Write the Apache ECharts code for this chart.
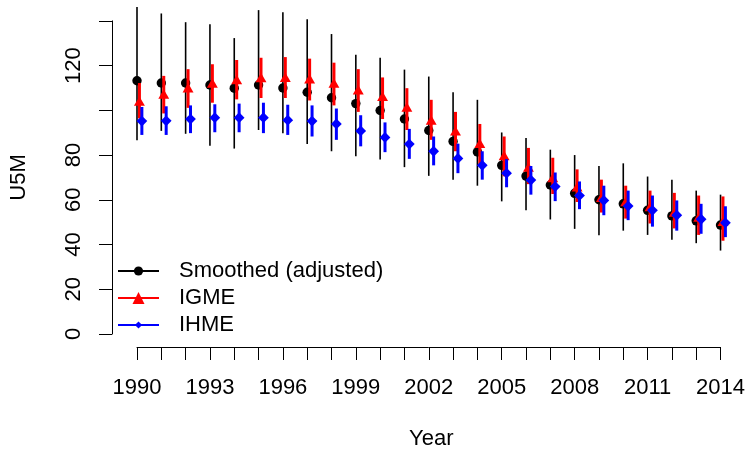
<!DOCTYPE html>
<html><head><meta charset="utf-8">
<script src="https://cdn.jsdelivr.net/npm/echarts@6/dist/echarts.min.js"></script>
<style>html,body{margin:0;padding:0;background:#fff}#c{width:748px;height:455px}</style>
</head><body><div id="c"></div>
<script>
const years = [1990,1991,1992,1993,1994,1995,1996,1997,1998,1999,2000,2001,2002,2003,2004,2005,2006,2007,2008,2009,2010,2011,2012,2013,2014];

const smoothed   = [113.2,112.2,112.2,111.3,109.9,111.3,110.0,108.1,105.6,103.0,99.9,96.1,91.0,86.1,81.4,75.4,70.6,66.6,62.9,60.0,58.2,55.3,52.8,50.6,48.7];
const smoothedLo = [86.6,90.8,89.5,84.2,82.9,91.2,89.8,84.9,81.7,79.5,78.0,74.6,70.7,69.0,66.3,59.3,55.3,51.2,47.0,44.1,46.2,44.3,42.1,40.6,37.3];
const smoothedHi = [146.2,143.3,139.4,138.5,132.3,144.8,143.8,140.7,134.1,124.8,123.5,118.2,115.1,108.1,104.7,90.1,87.6,82.4,80.0,75.1,76.3,70.4,69.0,64.1,62.3];

const igme   = [103.4,106.6,109.4,111.5,113.1,114.0,114.1,113.4,111.5,108.5,105.6,100.8,95.0,90.1,84.6,79.1,73.9,69.2,65.1,60.4,58.5,56.3,53.8,51.6,49.7];
const igmeLo = [96.4,98.6,101.1,103.4,104.9,105.5,105.5,104.4,102.2,99.3,96.1,91.2,86.8,81.7,75.5,70.5,67.0,62.6,59.0,54.3,51.6,49.4,47.2,44.3,41.7];
const igmeHi = [112.2,115.4,118.4,120.6,122.5,123.5,123.8,123.1,121.3,118.4,114.7,109.9,104.7,99.3,93.9,88.3,83.2,78.8,73.6,69.0,66.3,64.1,63.1,61.9,61.5];

const ihme   = [95.2,95.3,96.1,96.7,96.7,96.7,95.6,95.2,93.9,90.8,87.9,84.9,81.7,78.5,75.4,71.9,68.8,65.9,61.9,59.7,57.2,55.3,53.1,51.3,49.7];
const ihmeLo = [89.0,89.0,89.8,90.2,90.2,89.8,89.0,88.3,86.8,83.9,81.3,78.3,75.4,71.9,69.0,65.6,62.3,59.4,55.8,53.1,50.9,48.0,46.2,44.8,43.3];
const ihmeHi = [101.5,101.8,102.2,102.7,103.0,103.4,102.5,102.2,100.8,97.8,94.6,91.7,88.3,85.1,81.7,78.2,75.1,72.2,68.2,66.3,64.1,61.9,59.7,58.2,57.1];

const yTicks = [0,20,40,60,80,100,120,140];
const yLabelsShown = [0,20,40,60,80,120];
const seriesNames = ['Smoothed (adjusted)','IGME','IHME'];

const FONT = '"Liberation Sans", Arial, Helvetica, sans-serif';
const FS = 22;

function rows(v, lo, hi) { return years.map((y, i) => [y, lo[i], hi[i], v[i]]); }

function circleMark(p, c) { return {type:'circle', shape:{cx:p[0], cy:p[1], r:4.7}, style:{fill:c}}; }
function triMark(p, c) {
  const r = 6.3, xc = r * Math.sqrt(3) / 2;
  return {type:'polygon', shape:{points:[[p[0], p[1]-r],[p[0]+xc, p[1]+r/2],[p[0]-xc, p[1]+r/2]]}, style:{fill:c}};
}
function diaMark(p, c) {
  const d = 5.4;
  return {type:'polygon', shape:{points:[[p[0], p[1]-d],[p[0]+d, p[1]],[p[0], p[1]+d],[p[0]-d, p[1]]]}, style:{fill:c}};
}
function makeRender(dx, color, lw, marker) {
  return function (params, api) {
    const x = api.value(0) + dx;
    const pHi = api.coord([x, api.value(2)]);
    const pLo = api.coord([x, api.value(1)]);
    const p = api.coord([x, api.value(3)]);
    return {type:'group', children:[
      {type:'line', shape:{x1:pHi[0], y1:pHi[1], x2:pLo[0], y2:pLo[1]}, style:{stroke:color, lineWidth:lw}},
      marker(p, color)
    ]};
  };
}

const chart = echarts.init(document.getElementById('c'), null, {renderer:'canvas'});
const legendBase = {left:117, padding:0, itemWidth:41, textStyle:{color:'#000', fontSize:FS, fontFamily:FONT, padding:[0,0,0,15]}};
chart.setOption({
  animation:false,
  backgroundColor:'#fff',
  grid:{left:136, right:26, top:20.85, bottom:116, containLabel:false},
  xAxis:{
    type:'value', min:1990, max:2014, interval:1, offset:13,
    name:'Year', nameLocation:'middle', nameGap:81,
    nameTextStyle:{color:'#000', fontSize:FS, fontFamily:FONT, padding:[0,0,0,5]},
    axisLine:{show:true, onZero:false, lineStyle:{color:'#000', width:1}},
    axisTick:{show:true, length:13, inside:false, lineStyle:{color:'#000', width:1}},
    axisLabel:{show:true, margin:30, color:'#000', fontSize:FS, fontFamily:FONT,
      formatter:v => ((v - years[0]) % 3 === 0 ? String(v) : '')},
    splitLine:{show:false}
  },
  yAxis:{
    type:'value', min:yTicks[0], max:yTicks[yTicks.length-1], interval:20, offset:25,
    name:'U5M', nameLocation:'middle', nameGap:82, nameRotate:90,
    nameTextStyle:{color:'#000', fontSize:FS, fontFamily:FONT},
    axisLine:{show:true, onZero:false, lineStyle:{color:'#000', width:1}},
    axisTick:{show:true, length:13, inside:false, lineStyle:{color:'#000', width:1}},
    axisLabel:{show:true, rotate:90, margin:27, color:'#000', fontSize:FS, fontFamily:FONT,
      formatter:v => (yLabelsShown.indexOf(v) >= 0 ? String(v) : '')},
    splitLine:{show:false}
  },
  legend:[
    Object.assign({}, legendBase, {data:[seriesNames[0]], top:260, itemHeight:11.5}),
    Object.assign({}, legendBase, {data:[seriesNames[1]], top:287, itemHeight:15}),
    Object.assign({}, legendBase, {data:[seriesNames[2]], top:314, itemHeight:9})
  ],
  series:[
    {type:'custom', clip:false, data:rows(smoothed, smoothedLo, smoothedHi), encode:{x:0, y:[1,2,3]},
      renderItem:makeRender(0, '#000', 1.6, circleMark)},
    {type:'custom', clip:false, data:rows(igme, igmeLo, igmeHi), encode:{x:0, y:[1,2,3]},
      renderItem:makeRender(0.1, '#ff0000', 3, triMark)},
    {type:'custom', clip:false, data:rows(ihme, ihmeLo, ihmeHi), encode:{x:0, y:[1,2,3]},
      renderItem:makeRender(0.2, '#0000ff', 3, diaMark)},
    {type:'line', name:seriesNames[0], data:[], symbol:'circle', color:'#000', lineStyle:{color:'#000', width:1}, itemStyle:{color:'#000'}},
    {type:'line', name:seriesNames[1], data:[], symbol:'triangle', color:'#ff0000', lineStyle:{color:'#ff0000', width:1}, itemStyle:{color:'#ff0000'}},
    {type:'line', name:seriesNames[2], data:[], symbol:'diamond', color:'#0000ff', lineStyle:{color:'#0000ff', width:1}, itemStyle:{color:'#0000ff'}}
  ]
});
</script>
</body></html>
